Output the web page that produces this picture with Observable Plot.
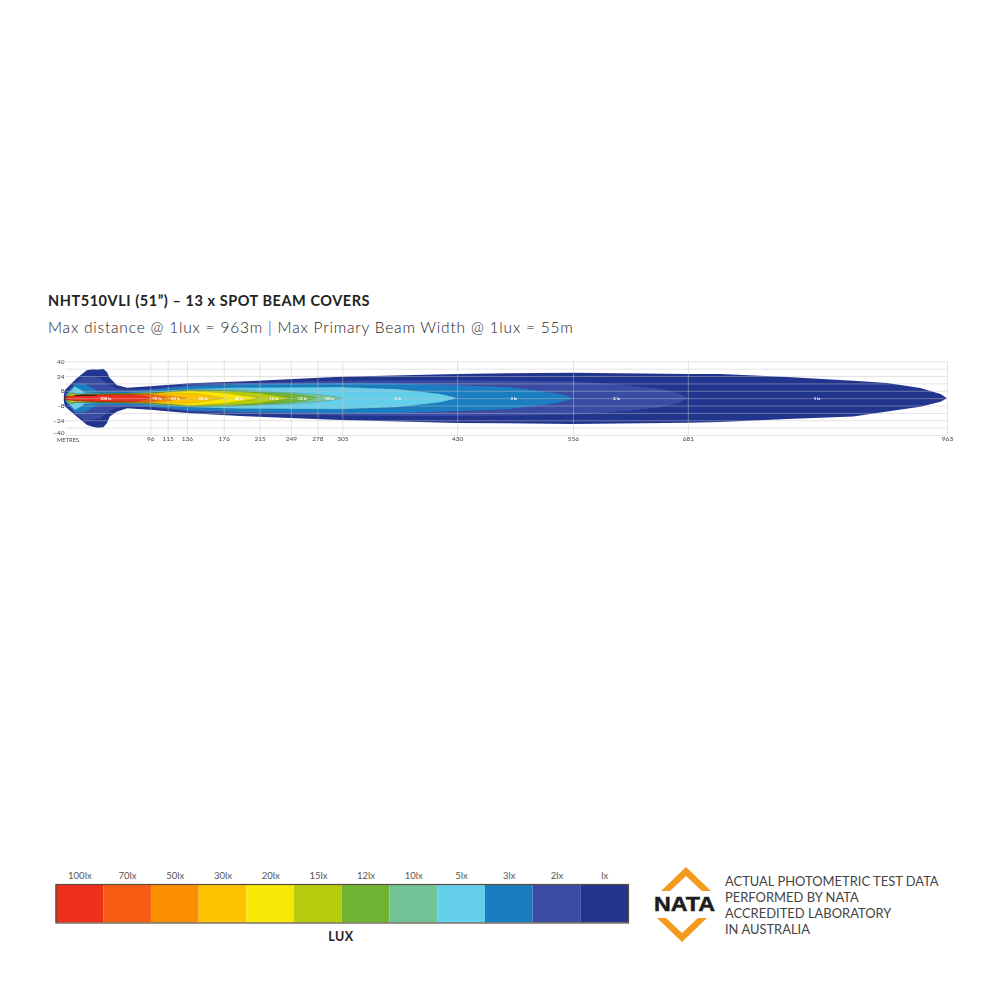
<!DOCTYPE html>
<html>
<head>
<meta charset="utf-8">
<script src="https://cdn.jsdelivr.net/npm/d3@7"></script>
<script src="https://cdn.jsdelivr.net/npm/@observablehq/plot@0.6"></script>
<style>
html,body{margin:0;padding:0;background:#fff;}
#root{position:relative;width:1000px;height:1000px;overflow:hidden;font-family:Lato,"Noto Sans",sans-serif;}
#root>*{position:absolute;}
#title{left:48px;top:292px;font-size:14.5px;font-weight:700;color:#222;letter-spacing:.55px;white-space:nowrap;line-height:18px;}
#subtitle{left:48px;top:317px;font-size:15.5px;font-weight:300;color:#222;letter-spacing:.8px;white-space:nowrap;line-height:20px;}
#chart{left:0;top:350px;filter:blur(.35px);}
#legend{left:0;top:859px;}
#lux{left:311px;top:929px;width:60px;text-align:center;font-size:12.5px;font-weight:700;color:#222;letter-spacing:.5px;line-height:15px;}
#logo{left:645px;top:860px;}
#nata{left:725px;top:872.5px;font-size:12.95px;line-height:16.1px;color:#444;white-space:nowrap;}
</style>
</head>
<body>
<div id="root">
  <div id="title">NHT510VLI (51”) – 13 x SPOT BEAM COVERS</div>
  <div id="subtitle">Max distance @ 1lux = 963m | Max Primary Beam Width @ 1lux = 55m</div>
  <div id="chart"></div>
  <div id="legend"></div>
  <div id="lux">LUX</div>
  <svg id="logo" width="80" height="90" viewBox="645 860 80 90">
    <polygon points="661,891 686,867 711,891 702,891 686,876 670,891" fill="#f39a1f"/>
    <polygon points="657,918 666,918 682,933 698,918 707,918 682,942" fill="#f39a1f"/>
    <text x="684.5" y="911" text-anchor="middle" font-family="'Liberation Sans',sans-serif" font-weight="700" font-size="20.5" textLength="61" lengthAdjust="spacingAndGlyphs" fill="#1c1c1c" stroke="#1c1c1c" stroke-width=".5">NATA</text>
  </svg>
  <div id="nata">ACTUAL PHOTOMETRIC TEST DATA<br>PERFORMED BY NATA<br>ACCREDITED LABORATORY<br>IN AUSTRALIA</div>
</div>
<script>
// Distance ticks (m) and lateral ticks (m)
const distanceTicks = [96, 115, 136, 176, 215, 249, 278, 305, 430, 556, 681, 963];
const lateralTicks = [40, 24, 8, -8, -24];
const lateralBottomTick = [-40];
const lateralGrid = [40, 32, 24, 16, 8, 0, -8, -16, -24, -32, -40];

// Legend
const luxLabels = ["100lx","70lx","50lx","30lx","20lx","15lx","12lx","10lx","5lx","3lx","2lx","lx"];
const luxColours = ["#ef2f1c","#f65c14","#fb8f00","#fdc300","#f9e805","#b5cd0e","#6fb533","#72c497","#64cfeb","#1a7dc2","#3a4ba4","#21348e"];

// 1 lux envelope: distance, upper and lower edge (m)
const d1 = [2,3,16,27,33,39,45,49,52,60,71,96,139,194,303,430,484,556,681,716,789,861,898,934,956,963];
const top1 = [3,8.7,21.7,30.4,31.5,31,31.8,28,22,14,11.4,12.9,16.3,18,23.3,26.3,27,27.7,26.3,26.3,23,19,16.5,11,4.5,0];
const bot1 = [-3,-8.7,-20,-29,-31,-32,-31.5,-27,-20,-14.6,-11,-12.5,-16.3,-19.5,-23.7,-27,-27.3,-28,-26.8,-25.8,-22.6,-20,-14.6,-9.2,-3.8,0];

// Other isolux contours: [distance, half width] in metres
const c2 = [[4,4],[14,17],[25,24],[41,22],[50,15],[58,11],[71,9],[96,10],[139,14.5],[194,16.5],[303,19],[430,19.5],[556,18],[615,14],[651,10],[672,5],[681,0]];
const c3 = [[4,3.5],[14,15],[25,15],[38,8],[50,7.5],[71,7.5],[96,9],[139,13],[194,15],[303,16.5],[365,16],[430,14],[484,12],[528,7],[548,3],[556,0]];
const c5 = [[4,3],[9,7.5],[14,13],[20,9.5],[25,6],[41,5.5],[71,5.5],[96,7],[139,10],[194,11.5],[303,12],[365,10],[411,4.7],[425,1.5],[430,0]];
const c10 = [[4,2.8],[9,6],[11,7.5],[14,5],[25,4.8],[71,5],[96,6],[139,9.2],[194,9],[212,7.8],[248,6.2],[281,3.8],[298,1.5],[305,0]];
const c12 = [[4,2.5],[7,3.3],[11,5.5],[15,4.4],[41,4.7],[96,5.7],[139,8.9],[164,8.5],[212,6.8],[248,4.9],[270,1.8],[278,0]];
const c15 = [[4,2.3],[7,3],[11,5],[15,4.2],[41,4.5],[96,5.4],[139,8.5],[177,7.8],[212,5.8],[240,1.8],[249,0]];
const c20 = [[5,2.2],[10,4.3],[14,3.9],[41,4.3],[96,5.2],[139,8],[175,5.8],[207,1.6],[215,0]];
const c30 = [[4,1.6],[9,2.7],[14,3],[41,4.1],[96,5],[128,5.6],[147,4.7],[168,1.5],[176,0]];
const c50 = [[4,1.6],[14,2.9],[41,3.9],[94,4.4],[115,3],[130,.9],[136,0]];
const c70 = [[3,1.6],[14,2.7],[41,3.8],[94,3.9],[108,1.4],[115,0]];
const c100 = [[3,1.4],[14,2.5],[41,3.7],[80,3.6],[92,1.4],[96,0]];

// Dark contour bunching above the 100 lx core: distance, upper, lower edge (m)
const coreDist = [14,25,38];
const coreHigh = [3.2,3.9,3.6];
const coreLow = [2.4,2.5,3];

// In-beam labels
const beamLabels = ["100 lx","70 lx","50 lx","30 lx","20 lx","15 lx","12 lx","10 lx","5 lx","3 lx","2 lx","1 lx"];
const beamLabelDist = [47,103,123,153,192,230,261,290,365,491,603,821];

const rows = d1.map((d,i)=>({level:"lx",d,low:bot1[i],high:top1[i]}));
[["2lx",c2],["3lx",c3],["5lx",c5],["10lx",c10],["12lx",c12],["15lx",c15],["20lx",c20],["30lx",c30],["50lx",c50],["70lx",c70],["100lx",c100]]
  .forEach(([level,c])=>c.forEach(([d,h])=>rows.push({level,d,low:-h,high:h})));
const coreRows = coreDist.map((d,i)=>({d,low:coreLow[i],high:coreHigh[i]}));
const beamRows = beamLabels.map((t,i)=>({t,d:beamLabelDist[i]}));

const chart = Plot.plot({
  width:1000,height:100,
  marginLeft:62,marginRight:53,marginTop:11.3,marginBottom:15,
  style:{background:"transparent",fontFamily:"Lato,'Noto Sans',sans-serif"},
  x:{domain:[0,963]},
  y:{domain:[-40,40]},
  color:{domain:luxLabels,range:luxColours},
  marks:[
    Plot.areaY(rows,{x:"d",y1:"low",y2:"high",z:"level",fill:"level"}),
    Plot.areaY(rows.filter(r=>r.level!=="lx"&&r.level!=="2lx"&&r.level!=="3lx"),{x:"d",y1:"low",y2:"high",z:"level",fill:"none",stroke:"#222",strokeOpacity:.28,strokeWidth:.5}),
    Plot.areaY(coreRows,{x:"d",y1:"low",y2:"high",fill:"#1a1010"}),
    Plot.ruleY(lateralGrid,{x1:4,x2:963,stroke:"#c4c4c4",strokeOpacity:.45,strokeWidth:1}),
    Plot.ruleX(distanceTicks,{y1:-40,y2:40,stroke:"#c4c4c4",strokeOpacity:.45,strokeWidth:1}),
    Plot.axisX(distanceTicks,{tickSize:0,tickPadding:1,fontSize:6.5,fill:"#444",label:null,tickFormat:d=>String(d)}),
    Plot.axisY(lateralTicks,{tickSize:0,tickPadding:-2,fontSize:6.5,fill:"#444",label:null}),
    Plot.text(lateralBottomTick,{x:()=>0,y:d=>d,text:d=>"−"+Math.abs(d),textAnchor:"end",dx:2,dy:-3,fontSize:6.5,fill:"#444"}),
    Plot.text(["METRES"],{x:()=>6,y:()=>-40,dy:4.5,fontSize:5.8,fill:"#444"}),
    Plot.text(beamRows,{x:"d",y:()=>0,text:"t",fontSize:4.2,fontWeight:700,fill:"#fff"})
  ]
});
document.getElementById("chart").appendChild(chart);

const legend = Plot.plot({
  width:1000,height:65,
  marginLeft:55.5,marginRight:372,marginTop:25,marginBottom:1.5,
  style:{background:"transparent",fontFamily:"Lato,'Noto Sans',sans-serif"},
  x:{domain:luxLabels,padding:0,round:false,axis:null},
  y:{axis:null},
  color:{domain:luxLabels,range:luxColours},
  marks:[
    Plot.cell(luxLabels,{x:d=>d,fill:d=>d}),
    Plot.frame({stroke:"#5a4f3c",strokeWidth:1.2}),
    Plot.axisX({anchor:"top",tickSize:0,tickPadding:5.5,fontSize:9.5,fill:"#555",label:null})
  ]
});
document.getElementById("legend").appendChild(legend);
</script>
</body>
</html>
